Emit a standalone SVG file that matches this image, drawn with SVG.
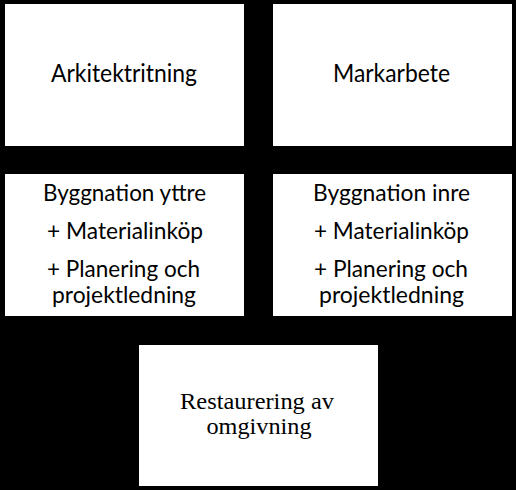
<svg xmlns="http://www.w3.org/2000/svg" width="516" height="490" viewBox="0 0 516 490">
<style>
.box{fill:#ffffff;stroke:none}
.s{font-family:Lato,"Open Sans","Liberation Sans",sans-serif;font-size:23.5px;fill:#000000;text-anchor:middle}
.t{font-family:"Liberation Serif","Times New Roman",serif;font-size:23px;fill:#000000;text-anchor:middle}
</style>
<rect x="0" y="0" width="516" height="490" fill="#000000"/>
<g id="connectors"></g>
<g id="arkitektritning">
<rect class="box" x="5" y="4" width="239" height="142"/>
<text class="s" x="124" y="82" style="font-size:24.5px" textLength="146" lengthAdjust="spacingAndGlyphs">Arkitektritning</text>
</g>
<g id="markarbete">
<rect class="box" x="273" y="4" width="239" height="142"/>
<text class="s" x="391.5" y="82" style="font-size:24.5px" textLength="117" lengthAdjust="spacingAndGlyphs">Markarbete</text>
</g>
<g id="byggnation-yttre">
<rect class="box" x="5" y="174" width="239" height="142"/>
<text class="s" x="124.5" y="201" textLength="163" lengthAdjust="spacingAndGlyphs">Byggnation yttre</text>
<text class="s" x="125" y="239" textLength="156" lengthAdjust="spacingAndGlyphs">+ Materialinköp</text>
<text class="s" x="123.5" y="276.5" textLength="153" lengthAdjust="spacingAndGlyphs">+ Planering och</text>
<text class="s" x="124" y="302.5" textLength="144" lengthAdjust="spacingAndGlyphs">projektledning</text>
</g>
<g id="byggnation-inre">
<rect class="box" x="273" y="174" width="239" height="142"/>
<text class="s" x="391.5" y="201" textLength="157" lengthAdjust="spacingAndGlyphs">Byggnation inre</text>
<text class="s" x="391.5" y="239" textLength="155" lengthAdjust="spacingAndGlyphs">+ Materialinköp</text>
<text class="s" x="391" y="276.5" textLength="154" lengthAdjust="spacingAndGlyphs">+ Planering och</text>
<text class="s" x="391.5" y="302.5" textLength="145" lengthAdjust="spacingAndGlyphs">projektledning</text>
</g>
<g id="restaurering">
<rect class="box" x="139" y="345" width="239" height="141"/>
<text class="t" x="257" y="408.5" textLength="154" lengthAdjust="spacingAndGlyphs">Restaurering av</text>
<text class="t" x="259" y="433.5" textLength="105" lengthAdjust="spacingAndGlyphs">omgivning</text>
</g>
</svg>
